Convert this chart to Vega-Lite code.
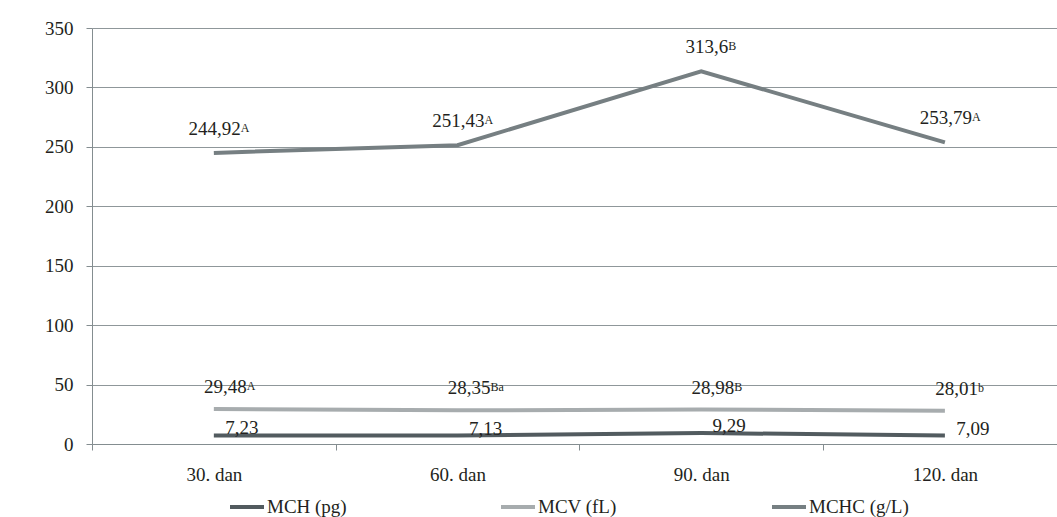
{
  "$schema": "https://vega.github.io/schema/vega-lite/v6.json",
  "width": 965,
  "height": 416,
  "autosize": {"type": "none"},
  "padding": {"left": 92, "top": 28, "right": 0, "bottom": 73},
  "background": "white",
  "config": {
    "view": {"stroke": null},
    "font": "Liberation Serif",
    "text": {"font": "Liberation Serif", "color": "#231f20"},
    "axis": {
      "labelFont": "Liberation Serif",
      "labelFontSize": 19,
      "labelColor": "#231f20",
      "domainColor": "#848d90",
      "tickColor": "#848d90",
      "gridColor": "#8f979a",
      "tickSize": 6,
      "title": null
    },
    "legend": {
      "labelFont": "Liberation Serif",
      "labelFontSize": 19,
      "labelColor": "#231f20"
    }
  },
  "data": {
    "values": [
      {"day": 30, "series": "MCH (pg)", "value": 7.23, "label": "7,23", "sup": ""},
      {"day": 60, "series": "MCH (pg)", "value": 7.13, "label": "7,13", "sup": ""},
      {"day": 90, "series": "MCH (pg)", "value": 9.29, "label": "9,29", "sup": ""},
      {"day": 120, "series": "MCH (pg)", "value": 7.09, "label": "7,09", "sup": ""},
      {"day": 30, "series": "MCV (fL)", "value": 29.48, "label": "29,48", "sup": "A"},
      {"day": 60, "series": "MCV (fL)", "value": 28.35, "label": "28,35", "sup": "Ba"},
      {"day": 90, "series": "MCV (fL)", "value": 28.98, "label": "28,98", "sup": "B"},
      {"day": 120, "series": "MCV (fL)", "value": 28.01, "label": "28,01", "sup": "b"},
      {"day": 30, "series": "MCHC (g/L)", "value": 244.92, "label": "244,92", "sup": "A"},
      {"day": 60, "series": "MCHC (g/L)", "value": 251.43, "label": "251,43", "sup": "A"},
      {"day": 90, "series": "MCHC (g/L)", "value": 313.6, "label": "313,6", "sup": "B"},
      {"day": 120, "series": "MCHC (g/L)", "value": 253.79, "label": "253,79", "sup": "A"}
    ]
  },
  "encoding": {
    "x": {
      "field": "day",
      "type": "quantitative",
      "scale": {"domain": [15, 133.8], "nice": false, "zero": false},
      "axis": {
        "values": [15, 45, 75, 105],
        "labelOffset": 121.85,
        "labelPadding": 15,
        "labelExpr": "(datum.value + 15) + '. dan'",
        "grid": false,
        "labelFlush": false,
        "labelOverlap": false
      }
    },
    "y": {
      "field": "value",
      "type": "quantitative",
      "scale": {"domain": [0, 350], "nice": false},
      "axis": {
        "values": [0, 50, 100, 150, 200, 250, 300, 350],
        "labelPadding": 13,
        "grid": true
      }
    }
  },
  "layer": [
    {
      "mark": {"type": "line", "strokeWidth": 4},
      "encoding": {
        "color": {
          "field": "series",
          "type": "nominal",
          "scale": {
            "domain": ["MCH (pg)", "MCV (fL)", "MCHC (g/L)"],
            "range": ["#525b5f", "#a7acae", "#767f82"]
          },
          "legend": {
            "title": null,
            "orient": "none",
            "legendX": 136,
            "legendY": 460,
            "direction": "horizontal",
            "columns": 3,
            "gridAlign": "all",
            "columnPadding": 126,
            "symbolType": "stroke",
            "symbolSize": 1156,
            "symbolStrokeWidth": 4,
            "labelOffset": 1
          }
        }
      }
    },
    {
      "transform": [{"filter": "datum.series == 'MCHC (g/L)'"}],
      "mark": {"type": "text", "align": "right", "baseline": "alphabetic", "dx": 27, "dy": -18, "fontSize": 19},
      "encoding": {"text": {"field": "label"}}
    },
    {
      "transform": [{"filter": "datum.series == 'MCHC (g/L)'"}],
      "mark": {"type": "text", "align": "left", "baseline": "alphabetic", "dx": 27, "dy": -21, "fontSize": 12},
      "encoding": {"text": {"field": "sup"}}
    },
    {
      "transform": [{"filter": "datum.series == 'MCV (fL)'"}],
      "mark": {"type": "text", "align": "right", "baseline": "alphabetic", "dx": 33, "dy": -16, "fontSize": 19},
      "encoding": {"text": {"field": "label"}}
    },
    {
      "transform": [{"filter": "datum.series == 'MCV (fL)'"}],
      "mark": {"type": "text", "align": "left", "baseline": "alphabetic", "dx": 33, "dy": -19, "fontSize": 12},
      "encoding": {"text": {"field": "sup"}}
    },
    {
      "transform": [{"filter": "datum.series == 'MCH (pg)'"}],
      "mark": {"type": "text", "align": "center", "baseline": "alphabetic", "dx": 28, "dy": -1, "fontSize": 19},
      "encoding": {"text": {"field": "label"}}
    }
  ]
}
